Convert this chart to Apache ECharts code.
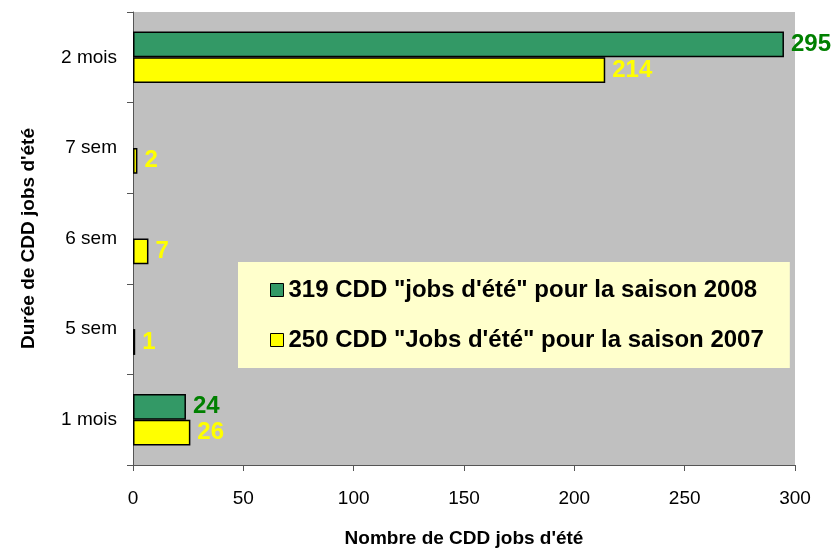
<!DOCTYPE html>
<html>
<head>
<meta charset="utf-8">
<script src="https://cdn.jsdelivr.net/npm/echarts@6/dist/echarts.min.js"></script>
<style>
  html, body { margin: 0; padding: 0; background: #fff; }
  #chart { width: 836px; height: 551px; }
</style>
</head>
<body>
<div id="chart"></div>
<script>
// categories bottom -> top
const durees = ['1 mois', '5 sem', '6 sem', '7 sem', '2 mois']
const saison2008 = [24, '-', '-', '-', 295]
const saison2007 = [26, 1, 7, 2, 214]
const xTicks = [0, 50, 100, 150, 200, 250, 300]

const nom2008 = '319 CDD "jobs d\'été" pour la saison 2008'
const nom2007 = '250 CDD "Jobs d\'été" pour la saison 2007'

const font = 'Liberation Sans, Arial, sans-serif'

const chart = echarts.init(document.getElementById('chart'))

chart.setOption({
  animation: false,
  textStyle: { fontFamily: font },
  grid: {
    left: 133, right: 41, top: 12, bottom: 86,
    outerBoundsMode: 'none',
    containLabel: false,
    show: true, backgroundColor: '#C0C0C0', borderWidth: 0
  },
  legend: {
    data: [nom2008, nom2007],
    orient: 'vertical',
    left: 238, top: 262,
    backgroundColor: '#FFFFCC',
    padding: [15, 26, 15, 32],
    itemWidth: 13, itemHeight: 13, itemGap: 24,
    icon: 'rect',
    itemStyle: { borderColor: '#000', borderWidth: 1 },
    textStyle: { fontSize: 24, fontWeight: 'bold', color: '#000', lineHeight: 26, fontFamily: font }
  },
  xAxis: {
    type: 'value',
    min: xTicks[0], max: xTicks[xTicks.length - 1], interval: 50,
    name: "Nombre de CDD jobs d'été",
    nameLocation: 'middle', nameGap: 64,
    nameTextStyle: { fontSize: 19, fontWeight: 'bold', color: '#000' },
    axisLine: { show: true, lineStyle: { color: '#555' } },
    axisTick: { show: true, length: 6, lineStyle: { color: '#555' } },
    axisLabel: { fontSize: 19, color: '#000', margin: 24 },
    splitLine: { show: false }
  },
  yAxis: {
    type: 'category',
    data: durees,
    name: "Durée de CDD jobs d'été",
    nameLocation: 'middle', nameGap: 95,
    nameTextStyle: { fontSize: 19, fontWeight: 'bold', color: '#000' },
    axisLine: { show: true, lineStyle: { color: '#555' } },
    axisTick: { show: true, length: 6, lineStyle: { color: '#555' } },
    axisLabel: { fontSize: 19, color: '#000', margin: 16 }
  },
  series: [
    {
      name: nom2008,
      type: 'bar',
      data: saison2008,
      barGap: '0%',
      barCategoryGap: '43%',
      itemStyle: { color: '#339966', borderColor: '#000', borderWidth: 1.5 },
      label: {
        show: true, position: 'right', distance: 7,
        fontSize: 24, fontWeight: 'bold', color: '#008000', fontFamily: font
      }
    },
    {
      name: nom2007,
      type: 'bar',
      data: saison2007,
      itemStyle: { color: '#FFFF00', borderColor: '#000', borderWidth: 1.5 },
      label: {
        show: true, position: 'right', distance: 7,
        fontSize: 24, fontWeight: 'bold', color: '#FFFF00', fontFamily: font
      }
    }
  ]
})
</script>
</body>
</html>
